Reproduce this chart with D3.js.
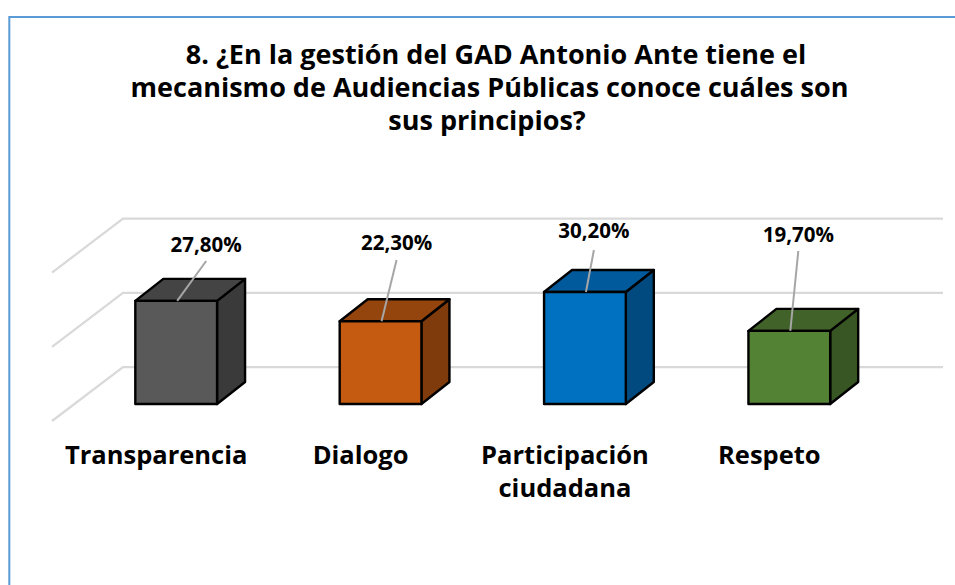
<!DOCTYPE html>
<html>
<head>
<meta charset="utf-8">
<script src="https://cdn.jsdelivr.net/npm/d3@7"></script>
<style>
  html, body { margin: 0; padding: 0; background: #fff; }
  svg { display: block; }
  .title { font: bold 27px "Open Sans", sans-serif; fill: #000; text-anchor: middle; }
  .cat text { font: bold 25.5px "Open Sans", sans-serif; fill: #000; }
  .val { font: bold 20.5px "Open Sans", sans-serif; fill: #000; text-anchor: middle; }
</style>
</head>
<body>
<svg id="chart" width="955" height="585"></svg>
<script>
var categories = ["Transparencia", "Dialogo", "Participación ciudadana", "Respeto"]
var values = [27.8, 22.3, 30.2, 19.7]
var valueLabels = ["27,80%", "22,30%", "30,20%", "19,70%"]
var gridTicks = [0, 20, 40]
var titleLines = [
  "8. ¿En la gestión del GAD Antonio Ante tiene el",
  "mecanismo de Audiencias Públicas conoce cuáles son",
  "sus principios?"
]
var frontColors = ["#595959", "#c55a11", "#0070c0", "#548235"]
var topColors = ["#444444", "#94440d", "#005a9c", "#416229"]
var sideColors = ["#3a3a3a", "#7f3b0b", "#004a80", "#375623"]
// where each data label sits relative to the bar centre / the chart top
var labelDx = [30, 16, 9, 9]
var labelBase = [252, 250, 238, 242]
var leaderTop = [261, 260, 250, 251]

var svg = d3.select("#chart")
var x = d3.scaleBand().domain(categories).range([74, 891.5]).paddingInner(0.6).paddingOuter(0.3)
var y = d3.scaleLinear().domain([0, 40]).range([404, 255.6])
// fake 3d depth
var barDx = 28, barDy = -22
var floorDx = 71, floorDy = -54

// chart frame, runs off the right and bottom of the picture
svg.append("rect")
  .attr("x", 9.3).attr("y", 17).attr("width", 1000).attr("height", 700)
  .attr("fill", "none").attr("stroke", "#5b9bd5").attr("stroke-width", 2)

svg.selectAll(".title").data(titleLines).join("text")
  .attr("class", "title")
  .attr("x", (d, i) => [496, 489.5, 487][i])
  .attr("y", (d, i) => 64 + i * 33)
  .text(d => d)

// grid: wall line plus the slanted bit on the floor
svg.append("g").selectAll("path").data(gridTicks).join("path")
  .attr("fill", "none").attr("stroke", "#d9d9d9").attr("stroke-width", 2.25)
  .attr("d", d => {
    var y0 = y(d) + 17
    return "M52," + y0 + "L" + (52 + floorDx) + "," + (y0 + floorDy) + "L943," + (y0 + floorDy)
  })

var bars = svg.append("g").selectAll("g").data(categories).join("g")

function face(pts) { return pts.map(p => p.join(",")).join(" ") }

bars.append("polygon")
  .attr("fill", (d, i) => sideColors[i])
  .attr("points", (d, i) => {
    var r = x(d) + x.bandwidth(), t = y(values[i]), b = y(0)
    return face([[r, t], [r + barDx, t + barDy], [r + barDx, b + barDy], [r, b]])
  })
bars.append("polygon")
  .attr("fill", (d, i) => topColors[i])
  .attr("points", (d, i) => {
    var l = x(d), r = l + x.bandwidth(), t = y(values[i])
    return face([[l, t], [l + barDx, t + barDy], [r + barDx, t + barDy], [r, t]])
  })
bars.append("rect")
  .attr("fill", (d, i) => frontColors[i])
  .attr("x", d => x(d))
  .attr("y", (d, i) => y(values[i]))
  .attr("width", x.bandwidth())
  .attr("height", (d, i) => y(0) - y(values[i]))
bars.selectAll("polygon, rect")
  .attr("stroke", "#000").attr("stroke-width", 2.4).attr("stroke-linejoin", "round")

// leader lines + labels
bars.append("line")
  .attr("stroke", "#a6a6a6").attr("stroke-width", 2)
  .attr("x1", d => x(d) + x.bandwidth() / 2 + 1)
  .attr("y1", (d, i) => y(values[i]))
  .attr("x2", (d, i) => x(d) + x.bandwidth() / 2 + labelDx[i])
  .attr("y2", (d, i) => leaderTop[i])
bars.append("text")
  .attr("class", "val")
  .attr("x", (d, i) => x(d) + x.bandwidth() / 2 + labelDx[i])
  .attr("y", (d, i) => labelBase[i])
  .text((d, i) => valueLabels[i])

// category labels, sit a bit left of the bars
var axis = svg.append("g")
  .attr("class", "cat")
  .attr("transform", "translate(-20,0)")
  .call(g => {
    g.append("g").attr("transform", "translate(0,446)")
      .call(d3.axisBottom(x).tickSize(0).tickPadding(0))
      .call(a => a.select(".domain").remove())
  })
axis.selectAll(".tick text")
  .attr("font-size", null).attr("font-family", null)
  .attr("dy", null).attr("y", 18)
  .each(function (d) {
    var words = d.split(" ")
    if (words.length < 2) return
    var t = d3.select(this).text(null)
    words.forEach((w, i) => t.append("tspan").attr("x", 0).attr("dy", i ? 33 : 0).text(w))
  })
</script>
</body>
</html>
